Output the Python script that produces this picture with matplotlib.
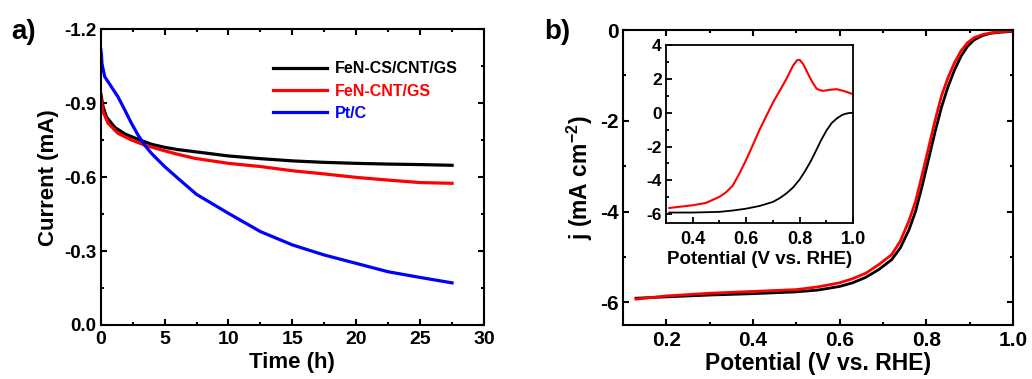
import matplotlib
matplotlib.use("Agg")
import matplotlib.pyplot as plt
from matplotlib.ticker import MultipleLocator

plt.rcParams['font.family'] = ['Liberation Sans', 'DejaVu Sans']
plt.rcParams['font.weight'] = 'bold'
plt.rcParams['axes.unicode_minus'] = False
plt.rcParams['mathtext.fontset'] = 'custom'
plt.rcParams['mathtext.rm'] = 'Liberation Sans:bold'
plt.rcParams['mathtext.it'] = 'Liberation Sans:bold'
plt.rcParams['mathtext.bf'] = 'Liberation Sans:bold'

# panel a: chronoamperometry
t_black = [0, 0.05, 0.18, 0.44, 1.1, 1.9, 2.9, 4, 5, 6, 7.4, 10, 12.5, 15, 17.5, 20, 22.5, 25, 27.5]
i_black = [-0.94, -0.925, -0.886, -0.845, -0.802, -0.775, -0.754, -0.733, -0.721, -0.712,
           -0.703, -0.686, -0.675, -0.666, -0.660, -0.656, -0.653, -0.651, -0.648]
t_red = [0, 0.05, 0.18, 0.57, 1.35, 2.4, 3.44, 5, 6, 7.4, 10, 12.5, 15, 17.5, 20, 22.5, 25, 27.5]
i_red = [-0.925, -0.91, -0.866, -0.819, -0.778, -0.751, -0.730, -0.707, -0.693, -0.676,
         -0.656, -0.643, -0.626, -0.613, -0.599, -0.588, -0.578, -0.575]
t_blue = [0, 0.05, 0.1, 0.31, 0.83, 1.35, 1.88, 2.4, 2.92, 3.44, 3.96, 5, 6.05, 7.5, 10,
          12.5, 15, 17.5, 20, 22.5, 25, 27.5]
i_blue = [-1.12, -1.10, -1.06, -1.008, -0.967, -0.926, -0.873, -0.819, -0.771, -0.730, -0.697,
          -0.643, -0.595, -0.530, -0.453, -0.379, -0.325, -0.284, -0.250, -0.216, -0.193, -0.171]

# panel b: LSV main
v_main = [0.13, 0.2, 0.3, 0.4, 0.5, 0.55, 0.6, 0.63, 0.66, 0.69, 0.72, 0.74, 0.76, 0.775,
          0.79, 0.805, 0.82, 0.835, 0.85, 0.865, 0.88, 0.895, 0.91, 0.93, 0.95, 0.97, 1.0]
j_red = [-5.93, -5.86, -5.80, -5.76, -5.72, -5.66, -5.57, -5.48, -5.36, -5.17, -4.95, -4.65,
         -4.20, -3.78, -3.20, -2.60, -2.00, -1.45, -1.05, -0.72, -0.46, -0.28, -0.17, -0.10,
         -0.06, -0.04, -0.02]
j_black = [-5.91, -5.88, -5.84, -5.81, -5.77, -5.73, -5.65, -5.57, -5.45, -5.28, -5.06, -4.80,
           -4.40, -4.00, -3.45, -2.85, -2.25, -1.70, -1.25, -0.88, -0.58, -0.36, -0.22, -0.12,
           -0.07, -0.05, -0.03]

# panel b: inset
v_in_red = [0.3125, 0.4, 0.45, 0.5, 0.525, 0.55, 0.575, 0.6, 0.625, 0.65, 0.675, 0.7, 0.725,
            0.75, 0.775, 0.79, 0.8, 0.8125, 0.825, 0.8375, 0.85, 0.8625, 0.875, 0.8875, 0.9125,
            0.9375, 0.9625, 0.98, 1.0]
j_in_red = [-5.63, -5.47, -5.33, -4.97, -4.70, -4.30, -3.58, -2.78, -1.9, -1.0, -0.2, 0.6, 1.29,
            1.99, 2.78, 3.1, 3.12, 2.88, 2.49, 2.09, 1.73, 1.43, 1.33, 1.29, 1.35, 1.39, 1.29,
            1.2, 1.09]
v_in_black = [0.3125, 0.4, 0.5, 0.55, 0.6, 0.65, 0.7, 0.725, 0.75, 0.775, 0.8, 0.82, 0.84,
              0.86, 0.88, 0.9, 0.92, 0.94, 0.96, 0.98, 1.0]
j_in_black = [-5.9, -5.9, -5.86, -5.78, -5.67, -5.51, -5.27, -5.05, -4.77, -4.42, -3.94, -3.45,
              -2.9, -2.27, -1.62, -1.05, -0.6, -0.32, -0.12, -0.03, 0.0]


def style_axes(ax, xsize, ysize, lw=1.5):
    for s in ax.spines.values():
        s.set_linewidth(lw)
    ax.tick_params(which='both', direction='in', top=True, right=True, width=lw)
    ax.tick_params(which='major', length=4)
    ax.tick_params(which='minor', length=2.5)
    ax.tick_params(axis='x', labelsize=xsize, pad=4)
    ax.tick_params(axis='y', labelsize=ysize, pad=3)
    for lab in ax.get_xticklabels() + ax.get_yticklabels():
        lab.set_fontweight('bold')


fig = plt.figure(figsize=(10.32, 3.79), dpi=100)

# ---- panel a
ax1 = fig.add_axes([0.0976, 0.1425, 0.3714, 0.7802])
ax1.plot(t_black, i_black, color='black', lw=2.3, label='FeN-CS/CNT/GS')
ax1.plot(t_red, i_red, color='red', lw=2.3, label='FeN-CNT/GS')
ax1.plot(t_blue, i_blue, color='blue', lw=2.3, label='Pt/C')
ax1.set_xlim(0, 30)
ax1.set_ylim(0, -1.2)
ax1.xaxis.set_major_locator(MultipleLocator(5))
ax1.xaxis.set_minor_locator(MultipleLocator(2.5))
ax1.yaxis.set_minor_locator(MultipleLocator(0.15))
ax1.set_yticks([0, -0.3, -0.6, -0.9, -1.2])
ax1.set_yticklabels(['0.0', '-0.3', '-0.6', '-0.9', '-1.2'])
style_axes(ax1, 14, 13.5)
ax1.set_xlabel('Time (h)', fontsize=16, fontweight='bold', labelpad=3)
ax1.set_ylabel('Current (mA)', fontsize=16, fontweight='bold', labelpad=4)
leg = ax1.legend(loc='upper right', bbox_to_anchor=(0.97, 0.94), frameon=False,
                 handlelength=3.4, fontsize=11.5, labelspacing=0.45, handletextpad=0.5)
for txt, line in zip(leg.get_texts(), leg.get_lines()):
    txt.set_color(line.get_color())
    txt.set_fontweight('bold')
fig.text(0.011, 0.915, 'a)', fontsize=20, fontweight='bold', va='center')

# ---- panel b
ax2 = fig.add_axes([0.6037, 0.1425, 0.3779, 0.7783])
ax2.plot(v_main, j_black, color='black', lw=2.0)
ax2.plot(v_main, j_red, color='red', lw=2.0)
ax2.set_xlim(0.1, 1.0)
ax2.set_ylim(-6.5, 0)
ax2.xaxis.set_major_locator(MultipleLocator(0.2))
ax2.xaxis.set_minor_locator(MultipleLocator(0.1))
ax2.yaxis.set_major_locator(MultipleLocator(2))
ax2.yaxis.set_minor_locator(MultipleLocator(1))
style_axes(ax2, 15, 15)
ax2.set_xlabel('Potential (V vs. RHE)', fontsize=16.5, fontweight='bold', labelpad=2)
ax2.set_ylabel('j (mA cm$^{-2}$)', fontsize=16.5, fontweight='bold', labelpad=4)
fig.text(0.527, 0.915, 'b)', fontsize=20, fontweight='bold', va='center')

# inset
ax3 = fig.add_axes([0.6453, 0.4124, 0.1815, 0.4689])
ax3.plot(v_in_black, j_in_black, color='black', lw=1.3)
ax3.plot(v_in_red, j_in_red, color='red', lw=1.5)
ax3.set_xlim(0.3, 1.0)
ax3.set_ylim(-6.5, 4)
ax3.xaxis.set_major_locator(MultipleLocator(0.2))
ax3.xaxis.set_minor_locator(MultipleLocator(0.1))
ax3.yaxis.set_major_locator(MultipleLocator(2))
ax3.yaxis.set_minor_locator(MultipleLocator(1))
style_axes(ax3, 13, 12.5, lw=1.3)
ax3.tick_params(which='both', top=False, right=False)
ax3.tick_params(axis='x', pad=6)
ax3.set_xlabel('Potential (V vs. RHE)', fontsize=13.5, fontweight='bold', labelpad=2)

fig.savefig('out.png', dpi=100)
